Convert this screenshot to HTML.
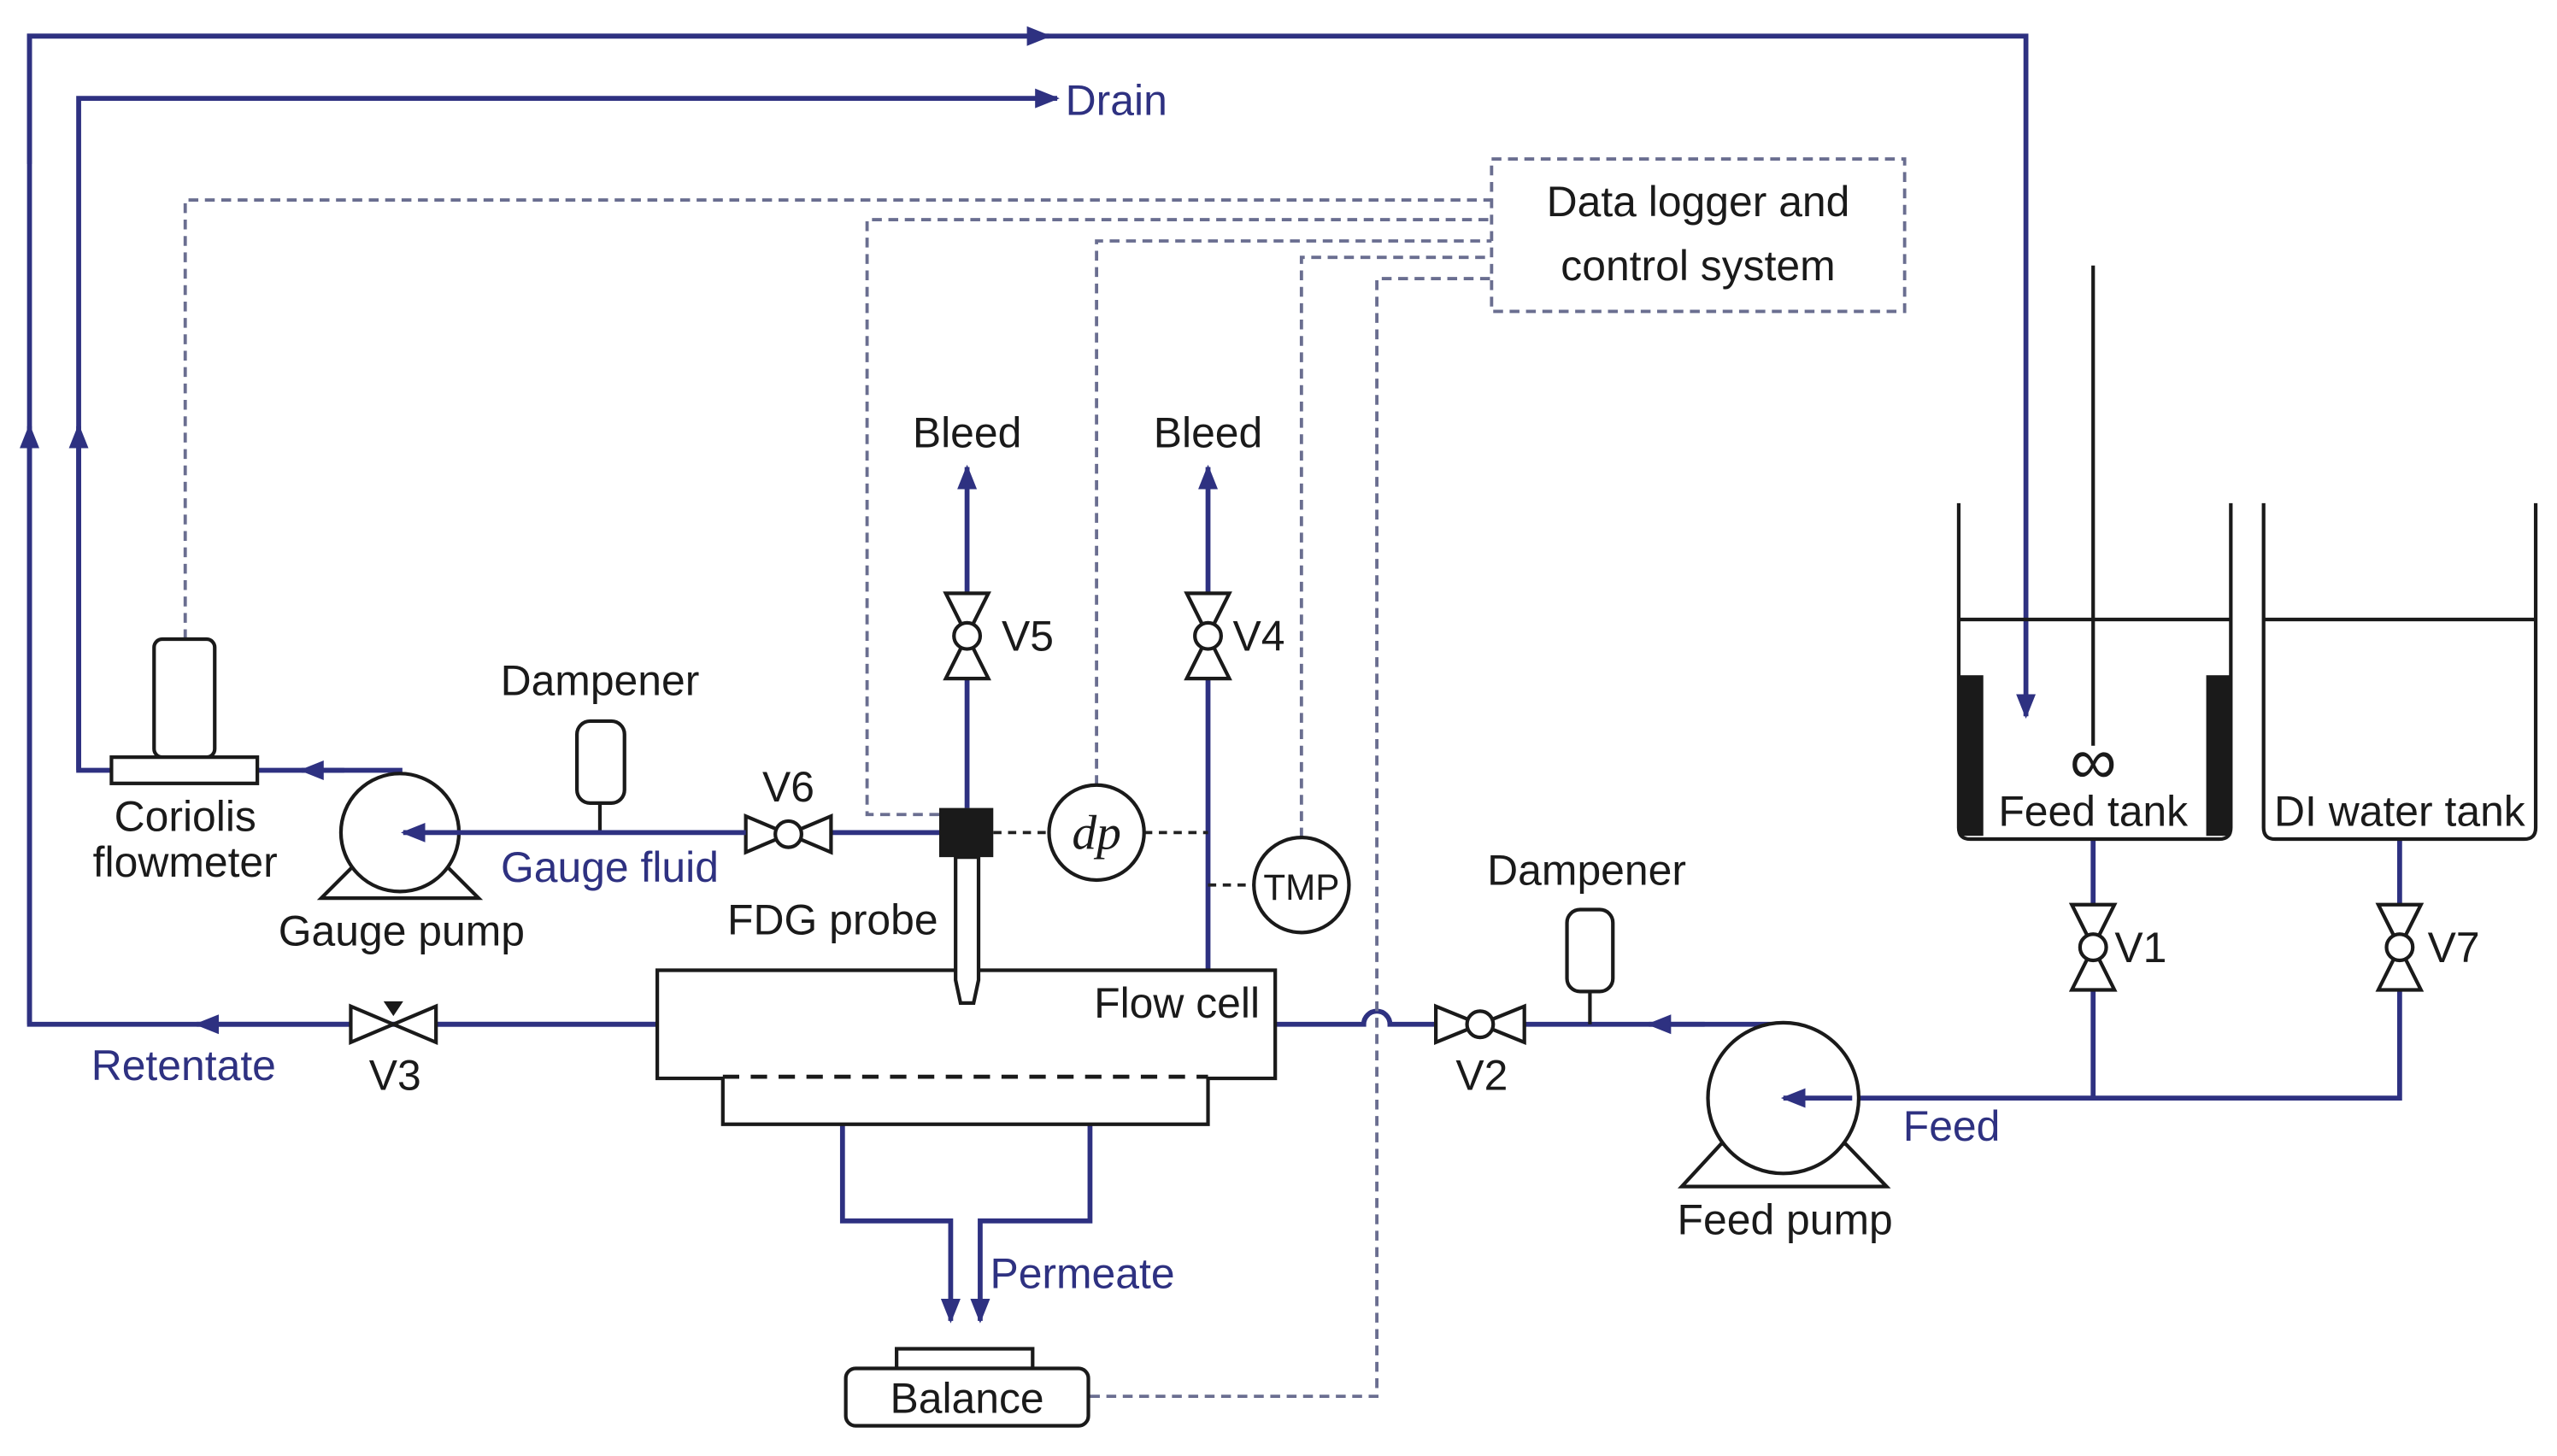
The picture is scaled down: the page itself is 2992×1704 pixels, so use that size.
<!DOCTYPE html>
<html><head><meta charset="utf-8"><style>html,body{margin:0;padding:0;background:#fff}svg{display:block}</style></head>
<body>
<svg width="2992" height="1704" viewBox="0 0 1560 888.4" xmlns="http://www.w3.org/2000/svg" font-family="Liberation Sans, sans-serif" font-size="26">
<defs>
<marker id="a" viewBox="0 0 10 10" refX="9" refY="5" markerWidth="5" markerHeight="5" orient="auto"><path d="M0,1 L10,5 L0,9 Z" fill="#2e3181"/></marker>
</defs>
<g fill="none" stroke="#2e3181" stroke-width="3">
<path d="M401,625 H18 V22 H1236 V437" marker-end="url(#a)"/>
<path d="M18,625 V260" marker-end="url(#a)"/>
<path d="M18,100 V22 H640" marker-end="url(#a)"/>
<path d="M68,470 H48 V60 H645" marker-end="url(#a)"/>
<path d="M48,470 V260" marker-end="url(#a)"/>
<path d="M244,472 V470 H157"/>
<path d="M210,470 H184" marker-end="url(#a)"/>
<path d="M507,508 H573"/>
<path d="M401,625 H120" marker-end="url(#a)"/>
<path d="M590,493 V285" marker-end="url(#a)"/>
<path d="M737,592 V285" marker-end="url(#a)"/>
<path d="M514,686 V745 H580 V806" marker-end="url(#a)"/>
<path d="M665,686 V745 H598 V806" marker-end="url(#a)"/>
<path d="M778,625 H832 A8,8 0 0 1 848,625 H930"/>
<path d="M930,625 H1088"/>
<path d="M1040,625 H1006" marker-end="url(#a)"/>
<path d="M1277,512 V670 M1464,512 V670 H1130"/>
</g>
<g fill="none" stroke="#6a6e90" stroke-width="2" stroke-dasharray="6,4">
<path d="M113,390 V122 H910"/>
<path d="M573,497 H529 V134 H910"/>
<path d="M669,479 V147 H910"/>
<path d="M794,511 V157 H910"/>
<path d="M665,852 H840 V170 H910"/>
<rect x="910" y="97" width="252" height="93"/>
</g>
<g fill="none" stroke="#222" stroke-width="2" stroke-dasharray="5,4">
<path d="M606,508 H640 M698,508 H737 M737,540 H765"/>
</g>
<g fill="#fff" stroke="#1a1a1a" stroke-width="2.2">
<rect x="94" y="390" width="37" height="72" rx="5"/>
<rect x="68" y="462" width="89" height="16"/>
<path d="M196,548 L218,526 H270 L292,548 Z"/>
<circle cx="244" cy="508" r="36"/>
<path d="M1026,724 L1050,698 H1126 L1151,724 Z"/>
<circle cx="1088" cy="670" r="46"/>
<path d="M366,490 V508"/><rect x="352" y="440" width="29" height="50" rx="8"/>
<path d="M970,605 V625"/><rect x="956" y="555" width="28" height="50" rx="8"/>
<path d="M455,498 L507,520 V498 L455,520 Z"/><circle cx="481" cy="509" r="8"/>
<path d="M214,614 L266,636 V614 L214,636 Z"/>
<path d="M876,614 L930,636 V614 L876,636 Z"/><circle cx="903" cy="625" r="8"/>
<path d="M577,362 L603,414 H577 L603,362 Z"/><circle cx="590" cy="388" r="8"/>
<path d="M724,362 L750,414 H724 L750,362 Z"/><circle cx="737" cy="388" r="8"/>
<path d="M1264,552 L1290,604 H1264 L1290,552 Z"/><circle cx="1277" cy="578" r="8"/>
<path d="M1451,552 L1477,604 H1451 L1477,552 Z"/><circle cx="1464" cy="578" r="8"/>
<path d="M401,592 H778 V658 H737 V686 H441 V658 H401 Z"/>
<path d="M583,523 V598 L586,612 H594 L597,598 V523 Z"/>
<circle cx="669" cy="508" r="29"/>
<circle cx="794" cy="540" r="29"/>
<rect x="547" y="823" width="83" height="12"/>
<rect x="516" y="835" width="148" height="35" rx="6"/>
</g>
<g fill="none" stroke="#2e3181" stroke-width="3">
<path d="M455,508 H246" marker-end="url(#a)"/>
<path d="M1130,670 H1088" marker-end="url(#a)"/>
</g>
<path d="M234,611 H246 L240,620 Z" fill="#1a1a1a"/>
<path d="M441,657 H737" stroke="#1a1a1a" stroke-width="2.5" stroke-dasharray="10,7"/>
<rect x="573" y="493" width="33" height="30" fill="#1a1a1a"/>
<g fill="none" stroke="#1a1a1a" stroke-width="2.2">
<path d="M1195,307 V505 Q1195,512 1202,512 H1354 Q1361,512 1361,505 V307"/>
<path d="M1195,378 H1361"/>
<path d="M1381,307 V505 Q1381,512 1388,512 H1540 Q1547,512 1547,505 V307"/>
<path d="M1381,378 H1547"/>
<path d="M1277,162 V455"/>
</g>
<rect x="1195" y="412" width="15" height="98" fill="#1a1a1a"/>
<rect x="1346" y="412" width="15" height="98" fill="#1a1a1a"/>
<g fill="#1a1a1a" text-anchor="middle">
<text x="1277" y="478" font-size="40">∞</text>
<text x="113" y="507">Coriolis</text>
<text x="113" y="535">flowmeter</text>
<text x="245" y="577">Gauge pump</text>
<text x="366" y="424">Dampener</text>
<text x="481" y="489">V6</text>
<text x="508" y="570">FDG probe</text>
<text x="590" y="273">Bleed</text>
<text x="737" y="273">Bleed</text>
<text x="627" y="397">V5</text>
<text x="768" y="397">V4</text>
<text x="669" y="518" font-family="Liberation Serif, serif" font-style="italic" font-size="30">dp</text>
<text x="794" y="549" font-size="22">TMP</text>
<text x="1036" y="132">Data logger and</text>
<text x="1036" y="171">control system</text>
<text x="718" y="621">Flow cell</text>
<text x="241" y="665">V3</text>
<text x="904" y="665">V2</text>
<text x="968" y="540">Dampener</text>
<text x="1089" y="753">Feed pump</text>
<text x="1277" y="504">Feed tank</text>
<text x="1464" y="504">DI water tank</text>
<text x="1306" y="587">V1</text>
<text x="1497" y="587">V7</text>
<text x="590" y="862">Balance</text>
</g>
<g fill="#2e3181">
<text x="650" y="70">Drain</text>
<text x="372" y="538" text-anchor="middle">Gauge fluid</text>
<text x="112" y="659" text-anchor="middle">Retentate</text>
<text x="604" y="786">Permeate</text>
<text x="1161" y="696">Feed</text>
</g>
</svg>
</body></html>
